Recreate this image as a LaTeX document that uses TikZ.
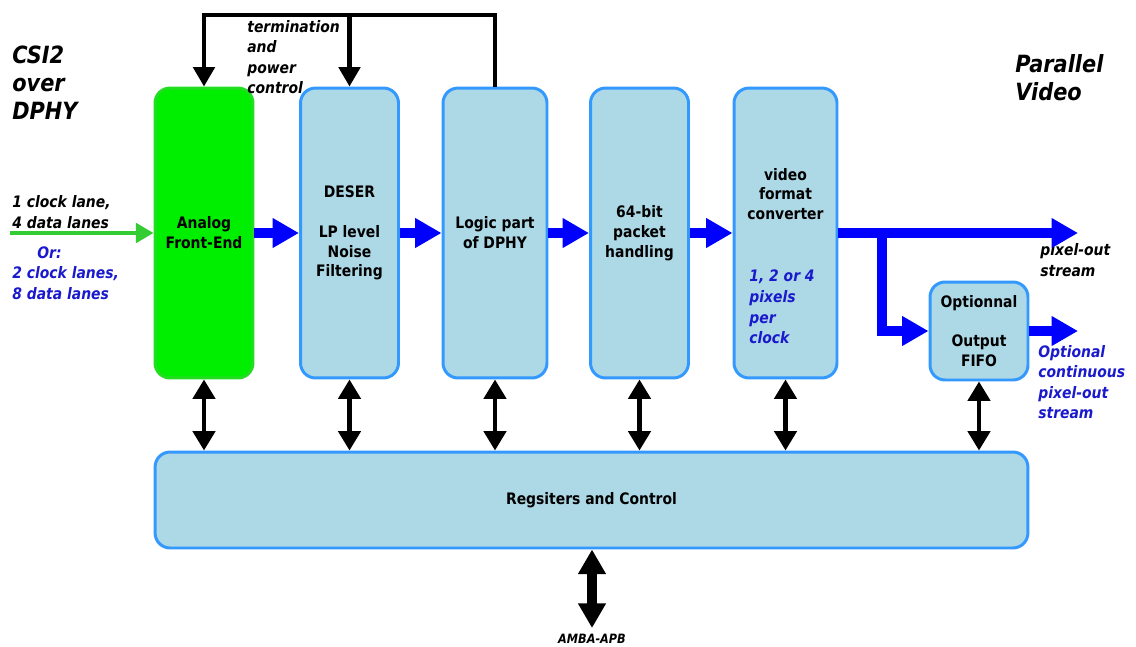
\documentclass[tikz,border=0pt]{standalone}
\usepackage{fontspec}
\setmainfont[FakeStretch=0.88]{DejaVu Sans}
\usetikzlibrary{arrows.meta}

\definecolor{boxfill}{HTML}{ADD8E6}
\definecolor{boxline}{HTML}{3399FF}
\definecolor{afefill}{HTML}{00EE00}
\definecolor{afeline}{HTML}{22DD22}
\definecolor{inarrow}{HTML}{33CC33}
\definecolor{noteblue}{HTML}{1A1ACC}

\newcommand\boxfont{\bfseries\fontsize{9}{11.3}\selectfont}
\newcommand\notefont{\bfseries\itshape\fontsize{9}{11.7}\selectfont}
\newcommand\headfont{\bfseries\itshape\fontsize{13.5}{15.9}\selectfont}

\begin{document}
\begin{tikzpicture}[
    x=0.02cm, y=-0.02cm,
    blk/.style={draw=boxline, fill=boxfill, line width=1.7pt, rounded corners=0.3cm,
      minimum width=1.96cm, minimum height=5.8cm, align=center, font=\boxfont, inner sep=0pt},
    flow/.style={draw=blue, line width=5.7pt, -{Triangle[length=15pt,width=16pt]}},
    bidir/.style={line width=2.5pt, {Triangle[length=11pt,width=12.5pt]}-{Triangle[length=11pt,width=12.5pt]}},
    ctrl/.style={line width=2.5pt, -{Triangle[length=11pt,width=12pt]}},
    note/.style={font=\notefont, align=left, anchor=west, inner sep=0pt},
    head/.style={font=\headfont, align=left, anchor=west, inner sep=0pt},
]
  \useasboundingbox (0,0) rectangle (1136,646);

  % pipeline blocks
  \node[blk, fill=afefill, draw=afeline] (afe) at (204,233) {Analog\\Front-End};
  \node[blk] (deser) at (349.5,233) {DESER\\[11.3pt]LP level\\Noise\\Filtering};
  \node[blk, minimum width=2.08cm] (logic) at (495,233) {Logic part\\of DPHY};
  \node[blk] (packet) at (639.5,233) {64-bit\\packet\\handling};
  \node[blk, minimum width=2.06cm] (vfc) at (785.5,233) {};
  \node[font=\boxfont, align=center, inner sep=0pt] (vfcname) at (785.5,194) {video\\format\\converter};
  \node[note, text=noteblue] (ppc) at (749,307) {1, 2 or 4\\pixels\\per\\clock};
  \node[blk, minimum height=1.96cm] (fifo) at (979,331) {Optionnal\\[11.3pt]Output\\FIFO};
  \node[blk, minimum width=17.46cm, minimum height=1.92cm] (regs) at (591.5,500) {Regsiters and Control};

  % side texts
  \node[head] (csi) at (12,83) {CSI2\\over\\DPHY};
  \node[head] (par) at (1015,78) {Parallel\\Video};
  \node[note] (term) at (247,57) {termination\\and\\power\\control};
  \node[note] (lanes1) at (12,212) {1 clock lane,\\4 data lanes};
  \node[note, text=noteblue] (or) at (37,253) {Or:};
  \node[note, text=noteblue] (lanes2) at (12,283) {2 clock lanes,\\8 data lanes};
  \node[note] (pixtxt) at (1040,260) {pixel-out\\stream};
  \node[note, text=noteblue] (opttxt) at (1038,382) {Optional\\continuous\\pixel-out\\stream};

  % data path
  \coordinate (lanes) at (10,233);
  \draw[inarrow, line width=2.3pt, -{Triangle[length=10pt,width=11pt]}] (lanes) -- (afe.west);
  \draw[flow] (afe.east) -- (deser.west);
  \draw[flow] (deser.east) -- (logic.west);
  \draw[flow] (logic.east) -- (packet.west);
  \draw[flow] (packet.east) -- (vfc.west);
  \coordinate (pixout) at (1078,233);
  \coordinate (split) at (882,233);
  \coordinate (fifoout) at (1078,331);
  \draw[flow] (vfc.east) -- (pixout);
  \draw[flow] (split) |- (fifo.west);
  \draw[flow] (fifo.east) -- (fifoout);

  % termination and power control
  \coordinate (ctltop) at (494,15);
  \draw[ctrl] (logic.north) -- (logic.north |- ctltop) -| (afe.north);
  \draw[ctrl] (deser.north |- ctltop) -- (deser.north);

  % register access
  \draw[bidir] (afe.south) -- (afe.south |- regs.north);
  \draw[bidir] (deser.south) -- (deser.south |- regs.north);
  \draw[bidir] (logic.south) -- (logic.south |- regs.north);
  \draw[bidir] (packet.south) -- (packet.south |- regs.north);
  \draw[bidir] (vfc.south) -- (vfc.south |- regs.north);
  \draw[bidir] (fifo.south) -- (fifo.south |- regs.north);

  % bus
  \coordinate (apb) at (592,628);
  \draw[line width=5.7pt, {Triangle[length=14pt,width=15pt]}-{Triangle[length=14pt,width=15pt]}] (regs.south -| apb) -- (apb);
  \node[font=\bfseries\itshape\fontsize{7.3}{8}\selectfont, inner sep=0pt] (amba) at (592,639) {AMBA-APB};
\end{tikzpicture}
\end{document}
